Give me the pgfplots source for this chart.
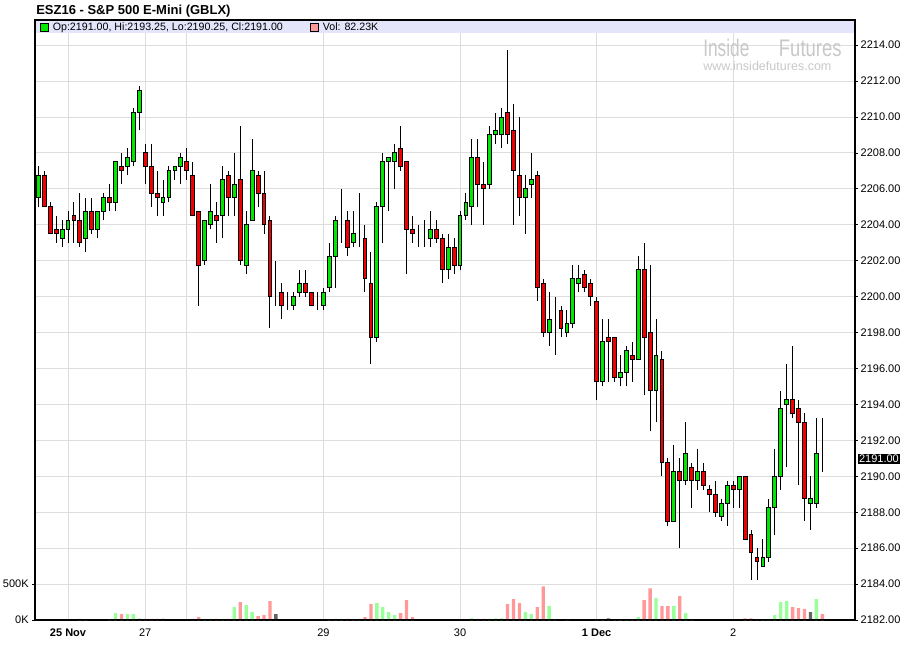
\documentclass[border=0pt]{standalone}
\usepackage{pgfplots}
\pgfplotsset{compat=1.18}
\usepackage{pgfplotstable}
\usepackage{fontspec}
\setmainfont{Liberation Sans}
\definecolor{cgreen}{RGB}{0,232,0}
\definecolor{cred}{RGB}{240,0,0}
\definecolor{vgreen}{RGB}{153,255,153}
\definecolor{vred}{RGB}{255,153,153}
\definecolor{vgray}{RGB}{102,102,102}
\definecolor{gridc}{RGB}{221,221,221}
\definecolor{stripc}{RGB}{228,228,250}
\definecolor{wm}{RGB}{200,200,200}

\pgfplotstableread{
i o h l c
1 2205.5 2207.25 2205.0 2206.75
2 2206.75 2207.0 2205.0 2205.0
3 2205.0 2205.25 2203.5 2203.5
4 2203.75 2204.5 2203.0 2203.5
5 2203.25 2204.25 2202.75 2203.75
6 2203.75 2204.75 2203.0 2204.25
7 2204.5 2205.25 2203.0 2204.25
8 2204.25 2205.75 2202.75 2203.0
9 2203.25 2205.5 2202.5 2204.75
10 2204.75 2205.5 2203.5 2203.75
11 2203.75 2204.75 2203.25 2204.75
12 2204.75 2205.75 2204.25 2205.5
13 2205.5 2206.25 2204.75 2205.25
14 2205.25 2207.5 2204.75 2207.5
15 2207.25 2208.0 2206.25 2207.0
16 2207.25 2208.25 2206.75 2207.75
17 2207.5 2210.5 2207.25 2210.25
18 2210.25 2211.75 2209.25 2211.5
19 2208.0 2208.5 2206.25 2207.25
20 2207.25 2208.5 2205.0 2205.75
21 2205.75 2207.0 2204.5 2205.5
22 2205.25 2206.5 2204.5 2205.5
23 2205.5 2207.25 2205.25 2207.0
24 2207.0 2207.25 2206.5 2207.25
25 2207.25 2208.0 2206.25 2207.75
26 2207.5 2208.25 2206.5 2207.0
27 2206.75 2207.5 2204.5 2204.5
28 2204.75 2204.75 2199.5 2201.75
29 2202.0 2204.25 2201.75 2204.25
30 2204.0 2206.25 2203.75 2204.75
31 2204.5 2205.25 2203.0 2204.25
32 2204.5 2207.25 2203.25 2206.5
33 2206.75 2207.0 2204.5 2205.5
34 2205.5 2208.0 2204.5 2206.25
35 2206.5 2209.5 2201.75 2202.0
36 2201.75 2204.75 2201.25 2204.0
37 2204.25 2208.75 2204.25 2207.0
38 2206.75 2207.0 2205.0 2205.75
39 2205.75 2207.0 2203.5 2204.0
40 2204.25 2204.5 2198.25 2200.0
41 2200.0 2202.0 2199.5 2200.0
42 2200.25 2200.75 2198.75 2199.5
43 2199.5 2200.25 2199.25 2199.5
44 2199.5 2200.25 2199.25 2200.0
45 2200.25 2201.5 2200.0 2200.75
46 2200.75 2201.5 2200.0 2200.25
47 2200.25 2200.25 2199.5 2199.5
48 2199.5 2200.25 2199.25 2199.5
49 2199.5 2200.5 2199.25 2200.25
50 2200.5 2203.0 2200.25 2202.25
51 2202.25 2204.5 2200.5 2204.25
52 2204.5 2206.0 2203.0 2204.5
53 2204.25 2204.75 2202.25 2202.75
54 2203.0 2204.75 2202.75 2203.5
55 2203.25 2205.75 2202.75 2203.25
56 2203.25 2204.0 2200.25 2201.0
57 2200.75 2202.5 2196.25 2197.75
58 2197.75 2205.25 2197.5 2205.0
59 2205.0 2208.0 2203.0 2207.5
60 2207.5 2207.75 2204.75 2207.75
61 2207.5 2208.5 2206.0 2208.0
62 2208.25 2209.5 2207.0 2207.25
63 2207.5 2207.5 2201.25 2203.75
64 2203.75 2204.5 2203.0 2203.5
65 2203.25 2204.0 2202.75 2203.25
66 2203.25 2204.25 2202.75 2203.25
67 2203.25 2204.75 2202.75 2203.75
68 2203.75 2204.25 2203.0 2203.25
69 2203.25 2203.5 2200.75 2201.5
70 2201.5 2203.5 2201.0 2202.75
71 2202.75 2203.25 2201.25 2201.75
72 2201.75 2204.75 2201.5 2204.5
73 2204.5 2205.75 2204.25 2205.25
74 2205.0 2208.75 2204.0 2207.75
75 2207.75 2208.75 2205.0 2206.25
76 2206.25 2207.5 2204.0 2206.0
77 2206.25 2209.5 2206.0 2209.0
78 2209.0 2210.25 2208.5 2209.25
79 2209.0 2210.5 2208.25 2210.0
80 2210.25 2213.75 2208.5 2209.0
81 2209.25 2210.75 2204.0 2207.0
82 2206.75 2210.0 2204.5 2205.5
83 2205.5 2206.75 2203.5 2206.0
84 2206.25 2208.0 2205.5 2206.5
85 2206.75 2207.0 2199.75 2200.5
86 2200.75 2201.0 2197.75 2198.0
87 2198.0 2200.25 2197.25 2198.75
88 2199.5 2200.0 2196.75 2199.5
89 2199.25 2199.5 2197.75 2198.25
90 2198.0 2199.25 2197.75 2198.5
91 2198.5 2201.75 2198.25 2201.0
92 2200.75 2201.75 2200.25 2201.0
93 2201.25 2201.5 2200.25 2200.5
94 2200.75 2201.0 2199.5 2200.0
95 2199.75 2200.0 2194.25 2195.25
96 2195.25 2198.75 2195.0 2197.5
97 2197.75 2198.75 2195.25 2197.5
98 2197.75 2197.75 2195.25 2195.5
99 2195.5 2196.75 2195.0 2195.75
100 2195.75 2197.25 2195.0 2197.0
101 2196.75 2197.5 2195.25 2196.5
102 2196.5 2202.25 2196.5 2201.5
103 2201.5 2203.0 2194.5 2197.75
104 2198.0 2201.75 2192.5 2194.75
105 2194.75 2198.75 2193.0 2196.75
106 2196.5 2197.0 2190.0 2190.75
107 2190.75 2191.0 2187.25 2187.5
108 2187.5 2191.75 2187.5 2190.25
109 2190.25 2191.0 2186.0 2189.75
110 2189.75 2193.0 2189.5 2191.25
111 2190.5 2190.75 2188.25 2189.75
112 2189.75 2191.5 2189.25 2190.25
113 2190.25 2190.75 2189.25 2189.5
114 2189.25 2189.5 2188.0 2189.0
115 2189.0 2189.75 2187.75 2188.0
116 2187.75 2188.75 2187.5 2188.5
117 2188.5 2189.75 2187.25 2189.5
118 2189.5 2189.75 2188.25 2189.25
119 2189.25 2190.0 2188.25 2190.0
120 2190.0 2190.0 2186.5 2186.5
121 2186.75 2187.0 2184.25 2185.75
122 2185.5 2186.0 2184.25 2185.25
123 2185.0 2186.5 2185.0 2185.5
124 2185.5 2188.75 2185.25 2188.25
125 2188.25 2191.5 2186.75 2190.0
126 2190.0 2194.75 2189.25 2193.75
127 2194.0 2196.25 2190.5 2194.25
128 2194.25 2197.25 2193.25 2193.5
129 2193.75 2194.25 2189.5 2193.0
130 2193.0 2193.5 2187.5 2188.75
131 2188.5 2190.0 2187.0 2188.75
132 2188.5 2193.25 2188.25 2191.25
133 2191.0 2193.25 2190.25 2191.0
}\candles

\newcommand{\legbox}[1]{{\setlength\fboxsep{0pt}\setlength\fboxrule{0.6pt}\fcolorbox{black}{#1}{\rule{0pt}{5.4pt}\hspace{5.4pt}}}}

\begin{document}
\begin{tikzpicture}
\path[use as bounding box] (0,0) rectangle (675pt,495.75pt);
\pgfplotsset{
  base/.style={at={(26.25pt,30.75pt)}, anchor=south west, scale only axis,
    width=615pt, height=450pt, xmin=0.44, xmax=138.5},
}
% ---- price axis: grid, ticks, strip
\begin{axis}[base, ymin=2182, ymax=2215.4,
  xtick={6,19,26,49,72,95,118},
  xticklabels={\textbf{25 Nov},27,{},29,30,\textbf{1 Dec},2},
  ytick={2182,2184,...,2214},
  yticklabels={2182.00,2184.00,2186.00,2188.00,2190.00,2192.00,2194.00,2196.00,2198.00,2200.00,2202.00,2204.00,2206.00,2208.00,2210.00,2212.00,2214.00},
  xmajorgrids, ymajorgrids,
  grid style={gridc, line width=0.75pt},
  ytick pos=right, yticklabel pos=right,
  tick align=outside, major tick length=2.25pt,
  xtick style={draw=none},
  ytick style={black, line width=0.6pt},
  tick label style={font=\fontsize{8.25}{9}\selectfont},
  xticklabel style={anchor=base, yshift=-10.5pt},
  yticklabel style={xshift=-1.5pt},
  axis line style={black, line width=0.8pt},
]
\fill[stripc] (rel axis cs:0,0.97833) rectangle (rel axis cs:1,1);
\end{axis}
% ---- volume axis
\begin{axis}[base, ymin=0, ymax=8333,
  axis x line=none, axis y line*=left,
  ytick={0,500}, yticklabels={0K,500K},
  tick align=outside, major tick length=2.25pt,
  ytick style={black, line width=0.6pt},
  y axis line style={black, line width=0.8pt},
  tick label style={font=\fontsize{8.25}{9}\selectfont},
  yticklabel style={xshift=1pt},
  ybar, bar width=0.56,
]
\addplot[bar shift=0pt, fill=vgreen, draw=none] coordinates {
(9,10) (14,96) (16,83) (17,83) (18,23) (29,14) (30,14) (32,14) (34,179) (36,207) (37,110)
(50,9) (51,14) (52,14) (54,14) (58,234) (59,179) (60,110) (61,69)
(74,23) (77,14) (78,23) (79,23) (83,110) (84,83) (87,193) (88,9) (90,9)
(96,9) (99,9) (100,9) (102,41) (105,303) (108,193) (110,96)
(123,9) (124,9) (125,69) (126,248) (127,262) (132,289)};
\addplot[bar shift=0pt, fill=vred, draw=none] coordinates {
(8,14) (13,12) (15,83) (19,14) (20,14) (21,14) (27,14) (28,41) (31,14) (33,14) (35,248)
(38,55) (39,69) (40,262) (53,14) (55,14) (56,41) (57,220) (62,96) (63,275) (64,41)
(75,14) (76,14) (80,220) (81,289) (82,234) (85,179) (86,468)
(95,9) (98,9) (101,9) (103,275) (104,440) (106,193) (107,193) (109,330) (111,9)
(120,23) (121,23) (122,9) (128,179) (129,165) (130,151) (133,83)};
\addplot[bar shift=0pt, fill=vgray, draw=none] coordinates {
(22,14) (41,83) (97,23) (131,110)};
\end{axis}
% ---- wicks
\begin{axis}[base, ymin=2182, ymax=2215.4, hide axis]
\addplot[draw=none, mark=none,
  error bars/.cd, y dir=plus, y explicit, error mark=none,
  error bar style={draw=black, solid, line width=0.75pt}]
  table[x=i, y=l, y error expr={\thisrow{h}-\thisrow{l}}]{\candles};
\end{axis}
% ---- candle bodies
\begin{axis}[base, ymin=2182, ymax=2215.4, hide axis,
  ybar stacked, bar width=0.65]
\addplot[draw=none, fill=none]
  table[x=i, y expr={min(\thisrow{o},\thisrow{c})}]{\candles};
\addplot[fill=cgreen, draw=black, line width=0.75pt]
  table[x=i, y expr={max(\thisrow{c}-\thisrow{o},0)}]{\candles};
\addplot[fill=cred, draw=black, line width=0.75pt]
  table[x=i, y expr={max(\thisrow{o}-\thisrow{c},0)}]{\candles};
\draw[black, line width=0.8pt] (rel axis cs:0,0) rectangle (rel axis cs:1,1);
\end{axis}
% ---- texts
\node[anchor=base west, inner sep=0pt, font=\bfseries\fontsize{9.75}{11}\selectfont]
  at (27pt,484.5pt) {ESZ16 - S\&P 500 E-Mini (GBLX)};
\node[anchor=base west, inner sep=0pt, font=\fontsize{8}{9.6}\selectfont]
  at (30pt,472.5pt) {\legbox{cgreen}\hspace{2.8pt}Op:2191.00, Hi:2193.25, Lo:2190.25, Cl:2191.00};
\node[anchor=base west, inner sep=0pt, font=\fontsize{8}{9.6}\selectfont]
  at (232.5pt,472.5pt) {\legbox{vred}\hspace{2.8pt}Vol: 82.23K};
\node[anchor=base west, inner sep=0pt, text=wm, font=\fontsize{18}{18}\selectfont]
  at (527.25pt,453.5pt) {\scalebox{0.72}[1]{Inside}};
\node[anchor=base west, inner sep=0pt, text=wm, font=\fontsize{18}{18}\selectfont]
  at (584pt,453.5pt) {\scalebox{0.77}[1]{Futures}};
\node[anchor=base west, inner sep=0pt, text=wm, font=\fontsize{9.4}{10}\selectfont]
  at (527.25pt,443.2pt) {www.insidefutures.com};
\node[anchor=west, fill=black, text=white, inner xsep=0.6pt, inner ysep=1.2pt,
  font=\fontsize{8.25}{9}\selectfont] at (643.5pt,151.5pt) {2191.00};
\end{tikzpicture}
\end{document}
